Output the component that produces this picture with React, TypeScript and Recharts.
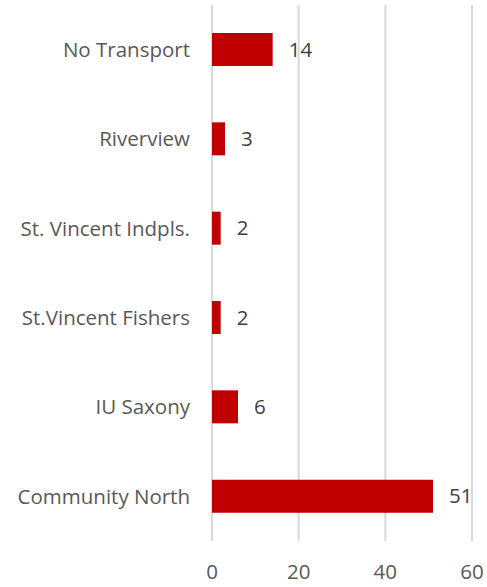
import { Bar, BarChart, CartesianGrid, LabelList, XAxis, YAxis } from "recharts";

const categories = [
	"No Transport",
	"Riverview",
	"St. Vincent Indpls.",
	"St.Vincent Fishers",
	"IU Saxony",
	"Community North",
];
const counts = [14, 3, 2, 2, 6, 51];
const xTicks = [0, 20, 40, 60];

const chartData = categories.map((name, i) => ({ name, count: counts[i] }));

const font = "'Open Sans', sans-serif";
const textColor = "#595959";

export default function App() {
	return (
		<div style={{ position: "absolute", left: 0, top: 0 }}>
			<BarChart
				width={487}
				height={587}
				data={chartData}
				layout="vertical"
				margin={{ top: 5, right: 15, left: 0, bottom: 0 }}
			>
				<CartesianGrid horizontal={false} stroke="#d9d9d9" strokeWidth={2} />
				<XAxis
					type="number"
					domain={[0, 60]}
					ticks={xTicks}
					axisLine={false}
					tickLine={false}
					tickSize={0}
					tickMargin={23}
					height={46}
					tick={{ fontSize: 20.5, fill: textColor, fontFamily: font }}
				/>
				<YAxis
					type="category"
					dataKey="name"
					width={212}
					axisLine={false}
					tickLine={false}
					tickSize={0}
					tickMargin={22}
					tick={{ fontSize: 20.5, fill: textColor, fontFamily: font }}
				/>
				<Bar dataKey="count" fill="#c00000" barSize={33} isAnimationActive={false}>
					<LabelList
						dataKey="count"
						position="right"
						offset={16}
						style={{ fontSize: 20.5, fill: "#404040", fontFamily: font }}
					/>
				</Bar>
			</BarChart>
		</div>
	);
}
